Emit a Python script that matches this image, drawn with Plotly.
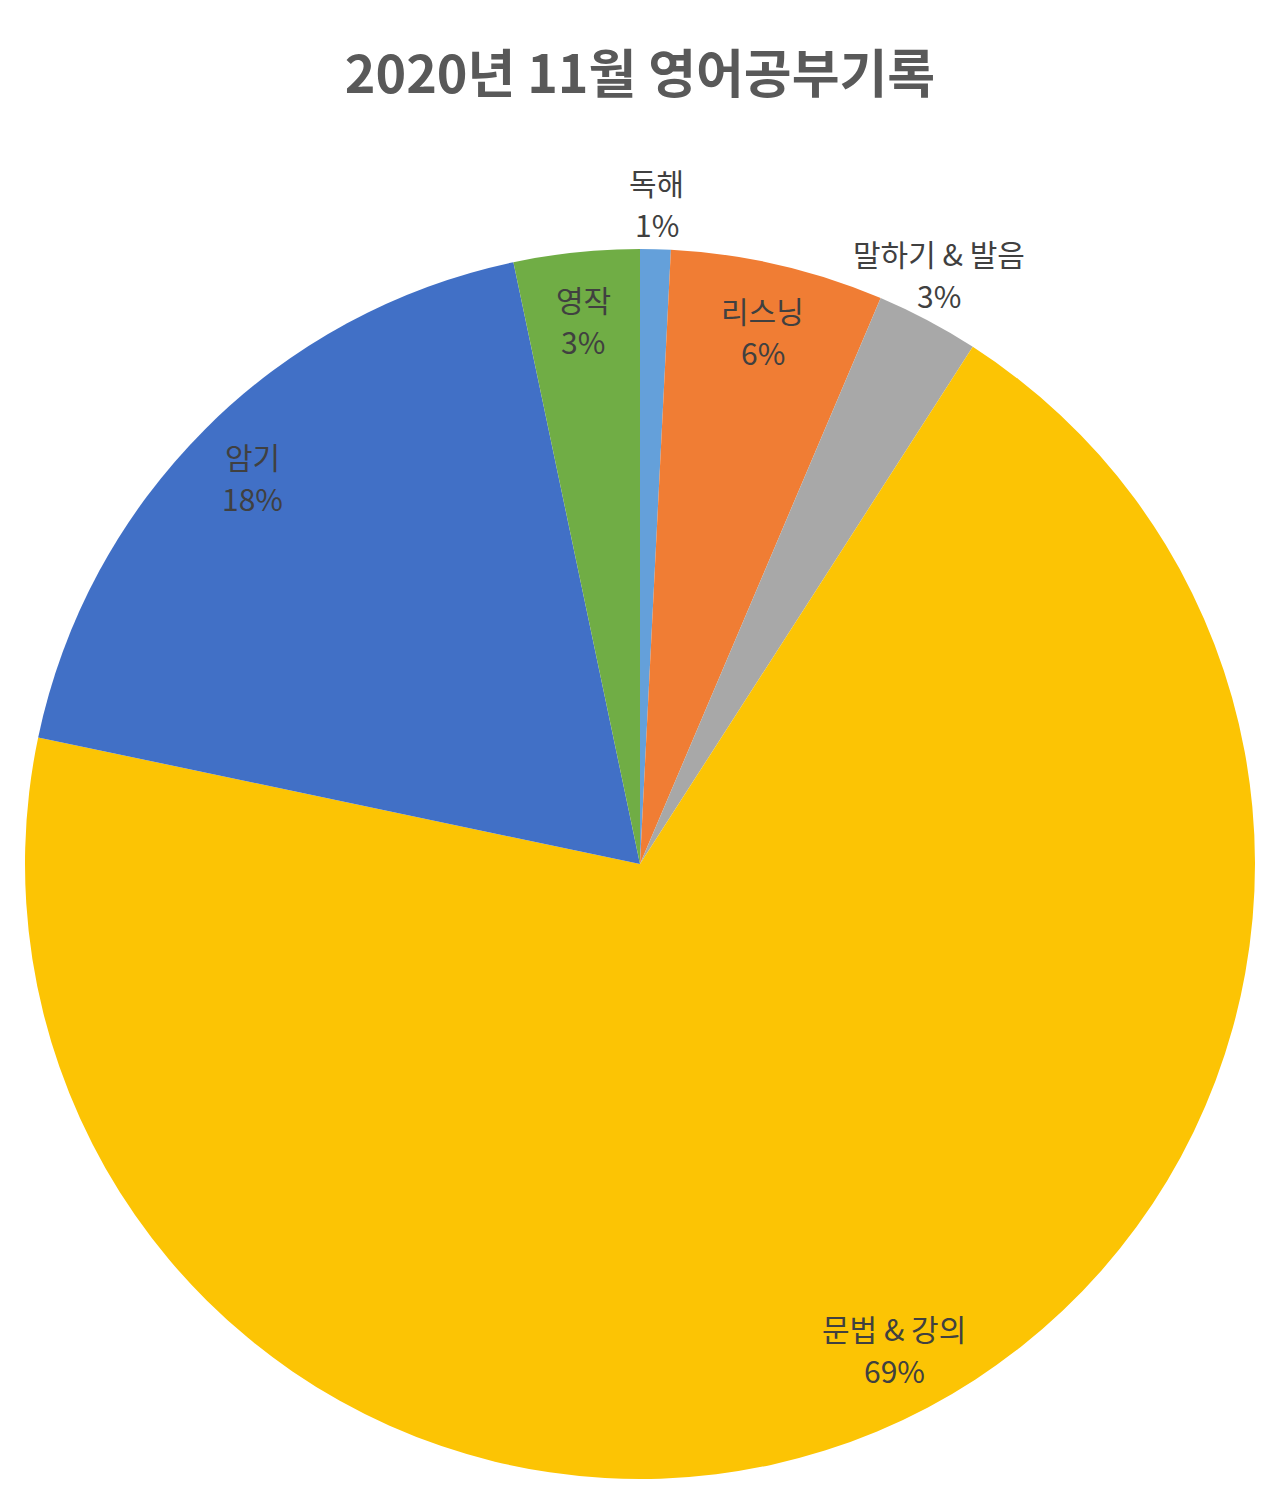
"""
Pie chart of November 2020 English study record.
"""

import numpy as np
import plotly.graph_objects as go


TITLE = "2020년 11월 영어공부기록"

LABELS = ["독해", "리스닝", "말하기 & 발음", "문법 & 강의", "암기", "영작"]
VALUES = [0.8, 5.6, 2.7, 69.2, 18.4, 3.3]
COLORS = ["#64a0da", "#f07d34", "#a8a8a8", "#fcc404", "#4170c6", "#70ad45"]
OUTSIDE = ["독해", "말하기 & 발음"]
# Excel's best-fit labels sit a bit off the mid-angle for some slices (degrees)
ANGLE_NUDGE = {"말하기 & 발음": -1.0, "문법 & 강의": -5.0}

WIDTH, HEIGHT = 1280, 1507
CX, CY, R = 640, 864, 615
FONT = "Noto Sans CJK KR, Noto Sans, sans-serif"
TEXT_COLOR = "#404040"


def px_x(x):
    return x / WIDTH


def px_y(y):
    return 1 - y / HEIGHT


def main():
    fig = go.Figure()
    fig.add_trace(go.Pie(
        labels=LABELS,
        values=VALUES,
        sort=False,
        direction="clockwise",
        rotation=0,
        marker=dict(colors=COLORS, line=dict(width=0)),
        textinfo="none",
        hoverinfo="label+percent",
        domain=dict(x=[px_x(CX - R), px_x(CX + R)], y=[px_y(CY + R), px_y(CY - R)]),
        showlegend=False,
    ))

    # label positions from slice mid-angles
    total = sum(VALUES)
    shares = np.array(VALUES) / total
    mids = (np.cumsum(shares) - shares / 2) * 360
    for label, share, deg in zip(LABELS, shares, mids):
        ang = np.radians(deg + ANGLE_NUDGE.get(label, 0.0))
        rr = 1.075 if label in OUTSIDE else 0.89
        x = CX + rr * R * np.sin(ang)
        y = CY - rr * R * np.cos(ang)
        for text, dy in ((label, -21), (f"{share * 100:.0f}%", 21)):
            fig.add_annotation(
                x=px_x(x), y=px_y(y + dy), xref="paper", yref="paper",
                text=text, showarrow=False,
                font=dict(family=FONT, size=30, color=TEXT_COLOR),
                xanchor="center", yanchor="middle",
            )

    fig.update_layout(
        width=WIDTH,
        height=HEIGHT,
        margin=dict(l=0, r=0, t=0, b=0),
        paper_bgcolor="white",
        plot_bgcolor="white",
        title=dict(
            text=f"<b>{TITLE}</b>",
            x=0.5, xanchor="center",
            y=px_y(75), yanchor="middle",
            font=dict(family=FONT, size=52, color="#595959"),
        ),
    )

    fig.write_html(
        "out.html",
        config={"displayModeBar": False},
        post_script="document.body.style.margin = '0';",
    )


if __name__ == "__main__":
    main()
